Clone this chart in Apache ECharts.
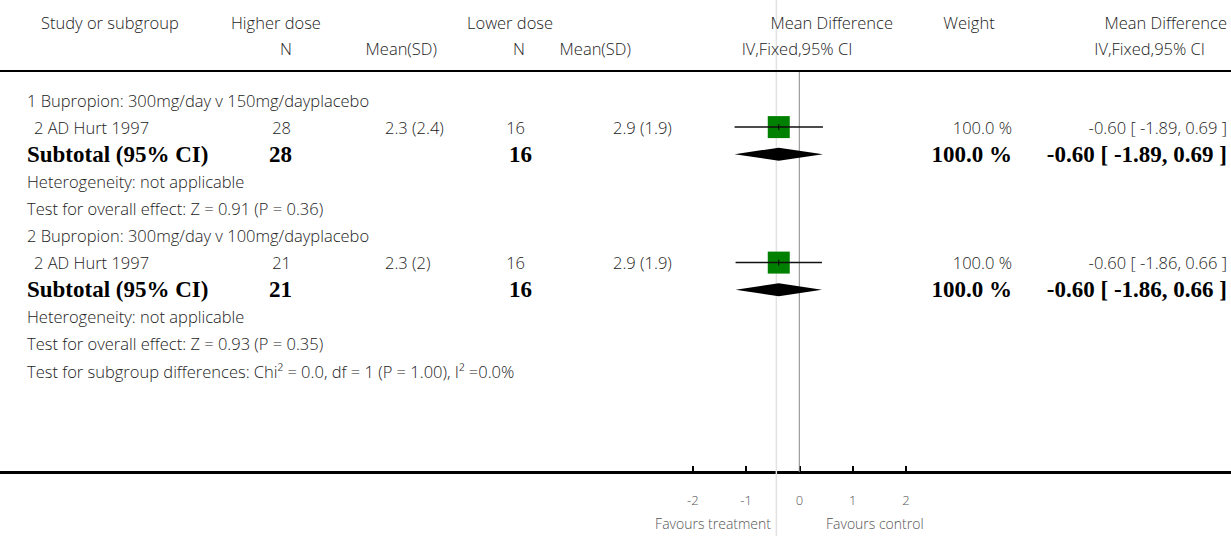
<!DOCTYPE html>
<html>
<head>
<meta charset="utf-8">
<script src="https://cdn.jsdelivr.net/npm/echarts@6/dist/echarts.min.js"></script>
<style>
  html, body { margin: 0; padding: 0; background: #fff; }
  #chart { width: 1231px; height: 536px; }
</style>
</head>
<body>
<div id="chart"></div>
<script>
// ---------------- DATA ----------------
const headerTop = ['Study or subgroup', 'Higher dose', 'Lower dose', 'Mean Difference', 'Weight', 'Mean Difference'];
const headerSub = ['N', 'Mean(SD)', 'N', 'Mean(SD)', 'IV,Fixed,95% CI', 'IV,Fixed,95% CI'];
const subgroupTitles = ['1 Bupropion: 300mg/day v 150mg/dayplacebo', '2 Bupropion: 300mg/day v 100mg/dayplacebo'];
const studyNames = ['2 AD Hurt 1997', '2 AD Hurt 1997'];
const nHigher = [28, 21];
const meanSdHigher = ['2.3 (2.4)', '2.3 (2)'];
const nLower = [16, 16];
const meanSdLower = ['2.9 (1.9)', '2.9 (1.9)'];
const studyMD = [-0.60, -0.60];
const studyLo = [-1.89, -1.86];
const studyHi = [0.69, 0.66];
const studyWeight = [100.0, 100.0];
const subtotalMD = [-0.60, -0.60];
const subtotalLo = [-1.89, -1.86];
const subtotalHi = [0.69, 0.66];
const subtotalWeight = [100.0, 100.0];
const heterogeneity = ['Heterogeneity: not applicable', 'Heterogeneity: not applicable'];
const overallEffect = ['Test for overall effect: Z = 0.91 (P = 0.36)', 'Test for overall effect: Z = 0.93 (P = 0.35)'];
const subgroupTest = 'Test for subgroup differences: Chi\u00B2 = 0.0, df = 1 (P = 1.00), I\u00B2 =0.0%';
const xTickValues = [-2, -1, 0, 1, 2];
const favours = ['Favours treatment', 'Favours control'];
const pooledLine = -0.67;
const nullLine = 0;

// ---------------- LAYOUT ----------------
const GRID_TOP = 71, GRID_BOTTOM = 64;
const ROW0_Y = 100, ROW_H = 27.1;
const GRID_H = 536 - GRID_TOP - GRID_BOTTOM;
const Y_MIN = -(ROW0_Y - GRID_TOP) / ROW_H;
const Y_MAX = Y_MIN + GRID_H / ROW_H;
const SANS = '"Open Sans", Lato, sans-serif';
const SERIF = '"Liberation Serif", "DejaVu Serif", serif';
const SANS_FONT = '300 16.5px ' + SANS;
const BOLD_FONT = 'bold 23px ' + SERIF;
const TXT = '#222';

const rowsPerGroup = 5;
const studyRows = [], subtotalRows = [];
for (let g = 0; g < subgroupTitles.length; g++) {
  studyRows.push(g * rowsPerGroup + 1);
  subtotalRows.push(g * rowsPerGroup + 2);
}

const studyData = studyRows.map((r, i) => [r, studyMD[i], studyLo[i], studyHi[i], studyWeight[i]]);
const subtotalData = subtotalRows.map((r, i) => [r, subtotalMD[i], subtotalLo[i], subtotalHi[i]]);

const chart = echarts.init(document.getElementById('chart'), null, { renderer: 'svg' });

chart.setOption({
  animation: false,
  backgroundColor: '#fff',
  grid: { left: 0, right: 0, top: GRID_TOP, bottom: GRID_BOTTOM, containLabel: false },
  xAxis: [
    {
      type: 'value', min: -15, max: 8.1, position: 'bottom',
      splitLine: { show: false },
      axisLine: { show: true, onZero: false, lineStyle: { color: '#000', width: 3 } },
      axisTick: { show: true, inside: true, length: 6, customValues: xTickValues, lineStyle: { color: '#000', width: 2 } },
      axisLabel: { show: true, customValues: xTickValues, margin: 21, color: '#555', fontSize: 13, fontFamily: SANS,
        fontWeight: 300, formatter: v => String(v) }
    },
    { type: 'value', min: -23.33, max: 12.6, show: false, splitLine: { show: false } }
  ],
  yAxis: { type: 'value', inverse: true, min: Y_MIN, max: Y_MAX, show: false, splitLine: { show: false } },
  series: [
    {
      type: 'custom', xAxisIndex: 1, z: 1, clip: false,
      data: [[pooledLine]],
      renderItem: (params, api) => {
        const x = api.coord([api.value(0), 0])[0];
        return { type: 'line', shape: { x1: x, y1: 0, x2: x, y2: api.getHeight() },
          style: { stroke: '#e2e2e2', lineWidth: 1.5 } };
      }
    },
    {
      type: 'custom', xAxisIndex: 1, z: 2, clip: false,
      data: [[nullLine]],
      renderItem: (params, api) => {
        const x = api.coord([api.value(0), 0])[0];
        const cs = params.coordSys;
        return { type: 'line', shape: { x1: x, y1: cs.y, x2: x, y2: cs.y + cs.height },
          style: { stroke: '#888', lineWidth: 1 } };
      }
    },
    {
      type: 'custom', xAxisIndex: 1, z: 5,
      data: studyData,
      renderItem: (params, api) => {
        const row = api.value(0);
        const pM = api.coord([api.value(1), row]);
        const pL = api.coord([api.value(2), row]);
        const pH = api.coord([api.value(3), row]);
        const size = 22 * Math.sqrt(api.value(4) / 100);
        return { type: 'group', children: [
          { type: 'rect', shape: { x: pM[0] - size / 2, y: pM[1] - size / 2, width: size, height: size }, style: { fill: '#008000' } },
          { type: 'line', shape: { x1: pL[0], y1: pL[1], x2: pH[0], y2: pH[1] }, style: { stroke: '#111', lineWidth: 1.5 } },
          { type: 'line', shape: { x1: pM[0], y1: pM[1] - 3, x2: pM[0], y2: pM[1] + 3 }, style: { stroke: '#000', lineWidth: 1 } }
        ] };
      }
    },
    {
      type: 'custom', xAxisIndex: 1, z: 5,
      data: subtotalData,
      renderItem: (params, api) => {
        const row = api.value(0);
        const pM = api.coord([api.value(1), row]);
        const pL = api.coord([api.value(2), row]);
        const pH = api.coord([api.value(3), row]);
        const h = 6.5;
        return { type: 'polygon', shape: { points: [[pL[0], pL[1]], [pM[0], pM[1] - h], [pH[0], pH[1]], [pM[0], pM[1] + h]] },
          style: { fill: '#000' } };
      }
    }
  ]
});

// --------------- TEXT (graphic) ---------------
function rowY(r) { return chart.convertToPixel({ yAxisIndex: 0 }, r); }

const texts = [];
function t(str, x, y, align, bold) {
  texts.push({ type: 'text', x: x, y: y, z: 10, silent: true,
    style: { text: str, align: align, textAlign: align, verticalAlign: 'middle', textVerticalAlign: 'middle',
      fill: bold ? '#000' : TXT,
      font: bold ? BOLD_FONT : SANS_FONT } });
}

// headers
const H1 = 22, H2 = 48;
t(headerTop[0], 41, H1, 'left');
t(headerTop[1], 231, H1, 'left');
t(headerTop[2], 467, H1, 'left');
t(headerTop[3], 893, H1, 'right');
t(headerTop[4], 969, H1, 'center');
t(headerTop[5], 1227, H1, 'right');
t(headerSub[0], 292, H2, 'right');
t(headerSub[1], 437, H2, 'right');
t(headerSub[2], 525, H2, 'right');
t(headerSub[3], 631, H2, 'right');
t(headerSub[4], 797, H2, 'center');
t(headerSub[5], 1205, H2, 'right');

for (let g = 0; g < subgroupTitles.length; g++) {
  const base = g * rowsPerGroup;
  t(subgroupTitles[g], 27, rowY(base), 'left');
  const ys = rowY(base + 1);
  t(studyNames[g], 34, ys, 'left');
  t(String(nHigher[g]), 291, ys, 'right');
  t(meanSdHigher[g], 385, ys, 'left');
  t(String(nLower[g]), 525, ys, 'right');
  t(meanSdLower[g], 613, ys, 'left');
  t(studyWeight[g].toFixed(1) + ' %', 1012, ys, 'right');
  t(studyMD[g].toFixed(2) + ' [ ' + studyLo[g].toFixed(2) + ', ' + studyHi[g].toFixed(2) + ' ]', 1227, ys, 'right');
  const yt = rowY(base + 2);
  t('Subtotal (95% CI)', 27, yt, 'left', true);
  t(String(nHigher[g]), 292, yt, 'right', true);
  t(String(nLower[g]), 532, yt, 'right', true);
  t(subtotalWeight[g].toFixed(1) + ' %', 1012, yt, 'right', true);
  t(subtotalMD[g].toFixed(2) + ' [ ' + subtotalLo[g].toFixed(2) + ', ' + subtotalHi[g].toFixed(2) + ' ]', 1227, yt, 'right', true);
  t(heterogeneity[g], 27, rowY(base + 3), 'left');
  t(overallEffect[g], 27, rowY(base + 4), 'left');
}
t(subgroupTest, 27, rowY(10), 'left');

// favours labels
texts.push({ type: 'text', x: 771, y: 523, z: 10, silent: true,
  style: { text: favours[0], align: 'right', textAlign: 'right', verticalAlign: 'middle', textVerticalAlign: 'middle', fill: '#555', font: '300 14px ' + SANS } });
texts.push({ type: 'text', x: 826, y: 523, z: 10, silent: true,
  style: { text: favours[1], align: 'left', textAlign: 'left', verticalAlign: 'middle', textVerticalAlign: 'middle', fill: '#555', font: '300 14px ' + SANS } });

// header rule
texts.push({ type: 'rect', shape: { x: 0, y: 70, width: 1231, height: 2 }, style: { fill: '#000' }, z: 10, silent: true });

chart.setOption({ graphic: texts });
</script>
</body>
</html>
